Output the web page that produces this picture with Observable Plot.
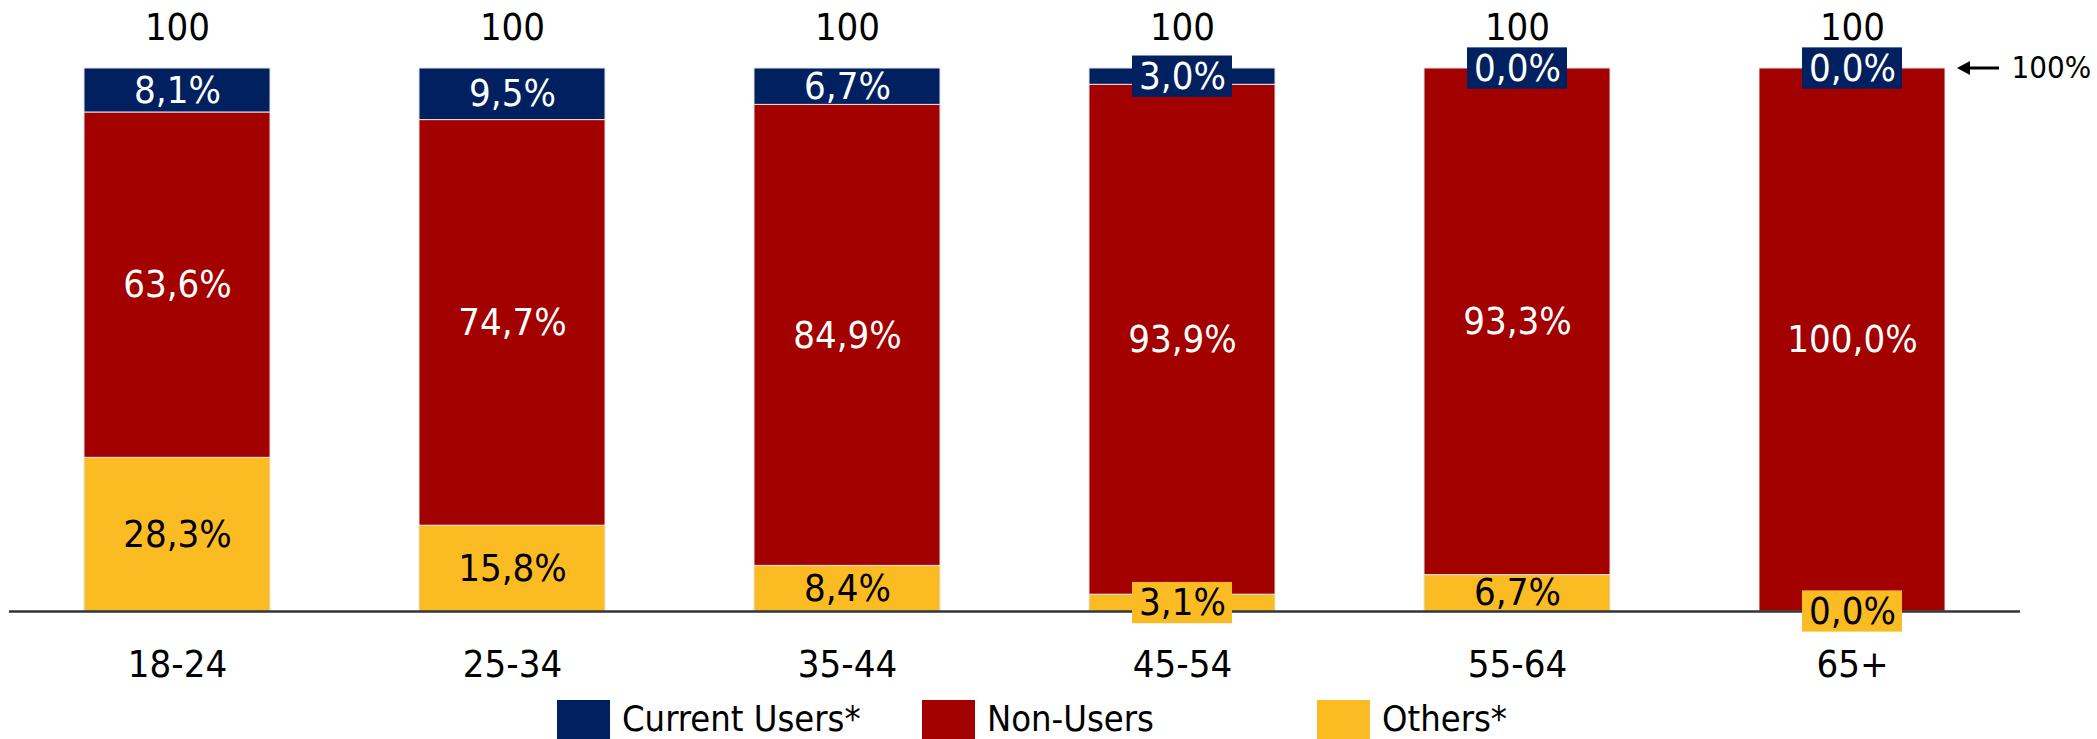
<!DOCTYPE html>
<html>
<head>
<meta charset="utf-8">
<script src="https://cdn.jsdelivr.net/npm/d3@7"></script>
<script src="https://cdn.jsdelivr.net/npm/@observablehq/plot@0.6"></script>
<style>
  html, body { margin: 0; padding: 0; background: #fff; overflow: hidden; }
  body { width: 2097px; height: 739px; font-family: "DejaVu Sans Condensed", "DejaVu Sans", sans-serif; font-stretch: condensed; }
  #legend { position: relative; width: 2097px; height: 39px; }
  .item { position: absolute; top: 0; height: 39px; display: flex; align-items: flex-start; }
  .sw { width: 53px; height: 39px; margin-right: 12px; }
  .lbl { font-size: 36px; line-height: 28px; height: 28px; margin-top: 5px; color: #000; white-space: nowrap; }
</style>
</head>
<body>
<div id="chart"></div>
<div id="legend"></div>
<script>
const ages = ["18-24", "25-34", "35-44", "45-54", "55-64", "65+"];
const currentUsers = [8.1, 9.5, 6.7, 3.0, 0.0, 0.0];
const nonUsers = [63.6, 74.7, 84.9, 93.9, 93.3, 100.0];
const others = [28.3, 15.8, 8.4, 3.1, 6.7, 0.0];
const totals = [100, 100, 100, 100, 100, 100];
const seriesNames = ["Current Users*", "Non-Users", "Others*"];
const seriesColors = ["#00205F", "#A30000", "#FBBB23"];

const FONT = '"DejaVu Sans Condensed", "DejaVu Sans", sans-serif';
const fmt = v => d3.format(".1f")(v).replace(".", ",") + "%";

// bottom-to-top stacking: Others, Non-Users, Current Users
const stackOrder = [["Others*", others], ["Non-Users", nonUsers], ["Current Users*", currentUsers]];
const rows = [];
ages.forEach((age, i) => {
  let base = 0;
  for (const [series, arr] of stackOrder) {
    const v = arr[i];
    rows.push({age, series, value: v, y1: base, y2: base + v, mid: base + v / 2});
    base += v;
  }
});
const small = rows.filter(d => d.value < 5);
const boxHalf = 3.8;

const arrowMark = (index, scales, values, dims) => {
  const g = d3.create("svg:g");
  const yy = scales.y(100);
  const xr = dims.width - dims.marginRight;
  g.append("line").attr("x1", xr - 52).attr("x2", xr - 21).attr("y1", yy).attr("y2", yy)
    .attr("stroke", "#000").attr("stroke-width", 3);
  g.append("path").attr("d", `M${xr - 63},${yy} L${xr - 50},${yy - 7} L${xr - 50},${yy + 7} Z`).attr("fill", "#000");
  return g.node();
};

const chart = Plot.plot({
  width: 2097,
  height: 700,
  marginLeft: 9,
  marginRight: 77,
  marginTop: 68,
  marginBottom: 89,
  style: {fontFamily: FONT, fontSize: "38px", background: "#fff", color: "#000", overflow: "visible"},
  x: {domain: ages, paddingInner: 0.445, paddingOuter: 0.22},
  y: {domain: [0, 100], axis: null},
  color: {domain: seriesNames, range: seriesColors},
  marks: [
    Plot.barY(rows, {x: "age", y1: "y1", y2: "y2", fill: "series", stroke: "#e4e4e4", strokeWidth: 1}),
    Plot.ruleY([0], {stroke: "#333", strokeWidth: 2.5}),
    Plot.barY(small, {x: "age", y1: d => d.mid - boxHalf, y2: d => d.mid + boxHalf, fill: "series", insetLeft: 43, insetRight: 43}),
    Plot.text(rows.filter(d => d.series !== "Others*"), {x: "age", y: "mid", text: d => fmt(d.value), fill: "white", fontSize: 38}),
    Plot.text(rows.filter(d => d.series === "Others*"), {x: "age", y: "mid", text: d => fmt(d.value), fill: "black", fontSize: 38}),
    Plot.text(ages, {x: d => d, y: (d, i) => totals[i], text: (d, i) => String(totals[i]), dy: -41, fill: "black", fontSize: 38}),
    Plot.axisX({tickSize: 0, tickPadding: 39, fontSize: 38, label: null}),
    Plot.text([100], {y: d => d, frameAnchor: "right", dx: -9, textAnchor: "start", text: () => "100%", fontSize: 31, fill: "black"}),
    arrowMark
  ]
});
document.getElementById("chart").appendChild(chart);

const legendLeft = [557, 922, 1317];
const legend = document.getElementById("legend");
seriesNames.forEach((name, i) => {
  const item = document.createElement("div");
  item.className = "item";
  item.style.left = legendLeft[i] + "px";
  const sw = document.createElement("div");
  sw.className = "sw";
  sw.style.background = seriesColors[i];
  const lbl = document.createElement("div");
  lbl.className = "lbl";
  lbl.textContent = name;
  item.appendChild(sw);
  item.appendChild(lbl);
  legend.appendChild(item);
});
</script>
</body>
</html>
